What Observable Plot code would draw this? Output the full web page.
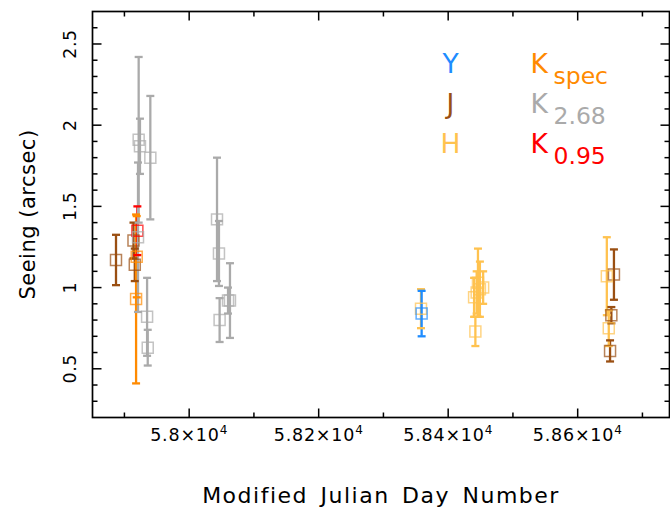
<!DOCTYPE html>
<html>
<head>
<meta charset="utf-8">
<script src="https://cdn.jsdelivr.net/npm/d3@7"></script>
<script src="https://cdn.jsdelivr.net/npm/@observablehq/plot@0.6"></script>
<style>
  html, body { margin: 0; padding: 0; background: #fff; }
  #chart svg { font-family: "DejaVu Sans", sans-serif; }
</style>
</head>
<body>
<div id="chart"></div>
<script>
// ---- data ----
const bands = ["Y", "J", "H", "Kspec", "K2.68", "K0.95"];
const bandColors = ["#1e8cff", "#9a4f12", "#ffc24f", "#ff8a00", "#aaaaaa", "#ff0000"];

const obsBand = [
  "J", "J", "J", "J", "J", "J",
  "H", "H", "H", "H", "H", "H", "H", "H", "H",
  "Y",
  "Kspec", "Kspec",
  "K0.95",
  "K2.68", "K2.68", "K2.68", "K2.68", "K2.68", "K2.68", "K2.68", "K2.68", "K2.68", "K2.68", "K2.68"
];
const obsMJD = [
  57887, 57914, 57916, 58656, 58652, 58650,
  58358, 58440, 58446, 58449, 58442, 58454, 58444, 58645, 58648,
  58359,
  57918, 57919,
  57920,
  57922, 57924, 57921, 57940, 57935, 57936, 58043, 58046, 58047, 58063, 58060
];
const obsSeeing = [
  1.17, 1.29, 1.14, 1.08, 0.83, 0.61,
  0.87, 0.94, 1.03, 0.99, 0.73, 1.00, 0.97, 1.07, 0.75,
  0.84,
  0.93, 1.19,
  1.35,
  1.91, 1.87, 1.31, 1.80, 0.82, 0.63, 1.42, 1.21, 0.80, 0.92, 0.92
];
const obsErr = [
  0.155, 0.11, 0.10, 0.155, 0.05, 0.065,
  0.12, 0.12, 0.21, 0.17, 0.09, 0.10, 0.13, 0.24, 0.11,
  0.14,
  0.52, 0.25,
  0.15,
  0.51, 0.17, 0.46, 0.38, 0.24, 0.11, 0.38, 0.20, 0.135, 0.23, 0.08
];

const xMajor = [58000, 58200, 58400, 58600];
const xMinor = [57900, 58100, 58300, 58500, 58700];
const yMajor = [0.5, 1, 1.5, 2, 2.5];
const yMinor = [0.3, 0.4, 0.6, 0.7, 0.8, 0.9, 1.1, 1.2, 1.3, 1.4, 1.6, 1.7, 1.8, 1.9, 2.1, 2.2, 2.3, 2.4, 2.6];
const xTickMantissa = ["5.8", "5.82", "5.84", "5.86"];
const xTickExponent = "4";
const yTickLabels = ["0.5", "1", "1.5", "2", "2.5"];
const xTitle = "Modified Julian Day Number";
const yTitle = "Seeing (arcsec)";

const legendMain = ["Y", "J", "H", "K", "K", "K"];
const legendSub = ["", "", "", "spec", "2.68", "0.95"];

// ---- build table ----
const obs = obsBand.map((b, i) => ({band: b, mjd: obsMJD[i], see: obsSeeing[i], err: obsErr[i]}));
const colorOf = Object.fromEntries(bands.map((b, i) => [b, bandColors[i]]));

// ---- custom symbols ----
const capSymbol = {draw(ctx) { ctx.moveTo(-4, 0); ctx.lineTo(4, 0); }};
const tickSym = (dx, dy) => ({draw(ctx) { ctx.moveTo(0, 0); ctx.lineTo(dx, dy); }});

const W = 670, H = 508;
const margin = {left: 92, right: 1, top: 11, bottom: 91};

// draw order
const order = ["J", "H", "Y", "Kspec", "K0.95", "K2.68"];
const sorted = order.flatMap(b => obs.filter(d => d.band === b));

const marks = [];
marks.push(Plot.ruleX(sorted, {x: "mjd", y1: d => d.see - d.err, y2: d => d.see + d.err, stroke: "band", strokeWidth: 2.3}));
marks.push(Plot.dot(sorted, {x: "mjd", y: d => d.see + d.err, symbol: capSymbol, stroke: "band", fill: "none", strokeWidth: 2.3}));
marks.push(Plot.dot(sorted, {x: "mjd", y: d => d.see - d.err, symbol: capSymbol, stroke: "band", fill: "none", strokeWidth: 2.3}));
marks.push(Plot.dot(sorted, {x: "mjd", y: "see", symbol: "square", r: 6.2, stroke: "band", fill: "none", strokeWidth: 1.5, strokeOpacity: 0.7}));

marks.push(Plot.frame({stroke: "#000", strokeWidth: 1.7}));
const tk = (data, chan, anchor, sym) => Plot.dot(data, {[chan]: d => d, frameAnchor: anchor, symbol: sym, stroke: "#000", fill: "none", strokeWidth: 1.5});
marks.push(tk(xMajor, "x", "bottom", tickSym(0, -9)));
marks.push(tk(xMinor, "x", "bottom", tickSym(0, -5)));
marks.push(tk(xMajor, "x", "top", tickSym(0, 9)));
marks.push(tk(xMinor, "x", "top", tickSym(0, 5)));
marks.push(tk(yMajor, "y", "left", tickSym(9, 0)));
marks.push(tk(yMinor, "y", "left", tickSym(5, 0)));
marks.push(tk(yMajor, "y", "right", tickSym(-9, 0)));
marks.push(tk(yMinor, "y", "right", tickSym(-5, 0)));

// tick labels
marks.push(Plot.text(xMajor, {x: d => d, text: (d, i) => xTickMantissa[i], frameAnchor: "bottom", dy: 18, lineAnchor: "middle", fontSize: 17.5, fill: "#000"}));
marks.push(Plot.text(yMajor, {y: d => d, text: (d, i) => yTickLabels[i], frameAnchor: "left", dx: -22, rotate: -90, textAnchor: "middle", lineAnchor: "middle", fontSize: 17.5, fill: "#000"}));

// axis titles
marks.push(Plot.text([xTitle], {text: d => d, frameAnchor: "bottom", dy: 78, lineAnchor: "middle", fontSize: 22, fill: "#000"}));
marks.push(Plot.text([yTitle], {text: d => d, frameAnchor: "left", dx: -64, rotate: -90, textAnchor: "middle", lineAnchor: "middle", fontSize: 21, fill: "#000"}));

// in-plot legend
const colDx = [358, 438];
const subDx = 461;
const rowDy = [61, 101, 141];
legendMain.forEach((t, i) => {
  const col = i < 3 ? 0 : 1, row = i % 3;
  const color = colorOf[bands[i]];
  marks.push(Plot.text([t], {text: d => d, frameAnchor: "top-left", dx: colDx[col], dy: rowDy[row], textAnchor: col === 0 ? "middle" : "start", lineAnchor: "bottom", fontSize: 26.5, fill: color}));
  if (legendSub[i]) {
    marks.push(Plot.text([legendSub[i]], {text: d => d, frameAnchor: "top-left", dx: subDx, dy: rowDy[row] + 11, textAnchor: "start", lineAnchor: "bottom", fontSize: 23.5, fill: color}));
  }
});

const chart = Plot.plot({
  width: W,
  height: H,
  marginLeft: margin.left,
  marginRight: margin.right,
  marginTop: margin.top,
  marginBottom: margin.bottom,
  x: {domain: [57850.7, 58741.8], axis: null},
  y: {domain: [0.2, 2.7], axis: null},
  color: {domain: bands, range: bandColors},
  style: {fontFamily: "DejaVu Sans, sans-serif", background: "#fff"},
  marks
});

// post-process (by text content): ×10^4 superscripts and letter spacing
const ns = "http://www.w3.org/2000/svg";
Array.from(chart.querySelectorAll("text")).forEach(el => {
  const s = el.textContent;
  if (xTickMantissa.includes(s)) {
    while (el.firstChild) el.removeChild(el.firstChild);
    const a = document.createElementNS(ns, "tspan");
    a.textContent = s + "×10";
    const b = document.createElementNS(ns, "tspan");
    b.setAttribute("dy", "-7.5");
    b.setAttribute("font-size", "12");
    b.textContent = xTickExponent;
    el.appendChild(a);
    el.appendChild(b);
    el.style.letterSpacing = "0.8px";
  } else if (s === xTitle) {
    el.style.letterSpacing = "1.5px";
    el.style.wordSpacing = "4px";
  } else if (s === yTitle) {
    el.style.letterSpacing = "0.5px";
  } else if (yTickLabels.includes(s)) {
    el.style.letterSpacing = "0.5px";
  }
});

document.getElementById("chart").appendChild(chart);
</script>
</body>
</html>
